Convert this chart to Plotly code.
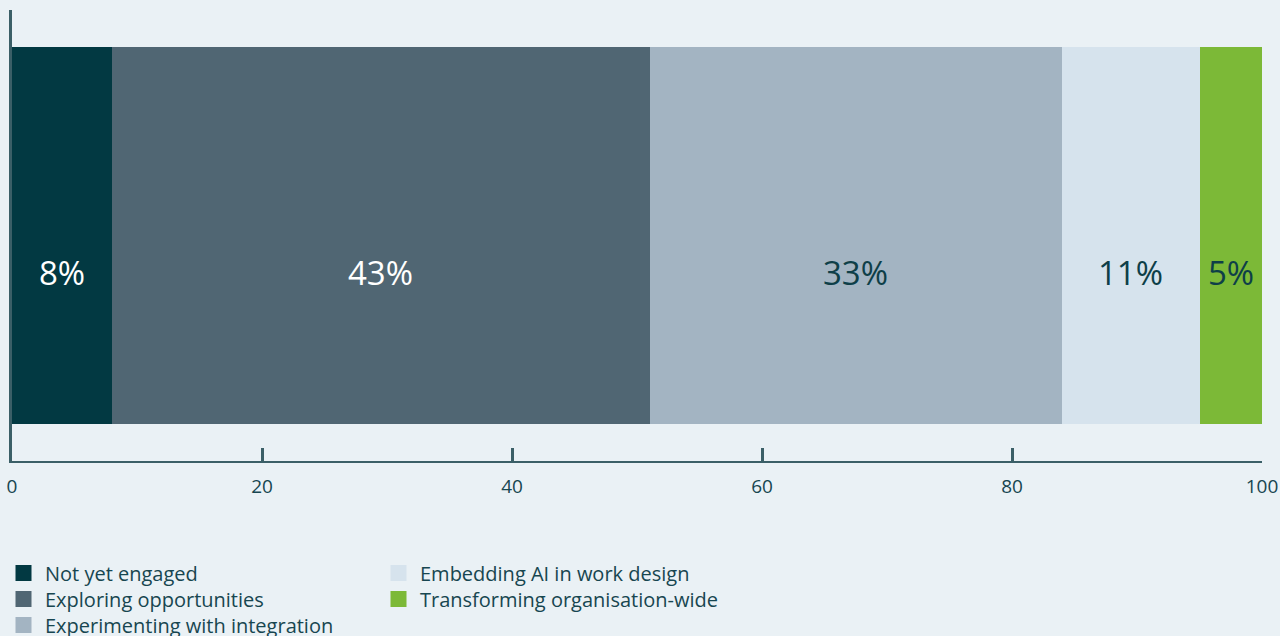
import plotly.graph_objects as go

# Share of organisations at each stage of AI adoption (%)
stages = [
    "Not yet engaged",
    "Exploring opportunities",
    "Experimenting with integration",
    "Embedding AI in work design",
    "Transforming organisation-wide",
]
shares = [8, 43, 33, 11, 5]
tick_values = [0, 20, 40, 60, 80, 100]

colors = ["#023942", "#506673", "#a3b4c2", "#d6e3ed", "#7cb937"]
label_colors = ["#ffffff", "#ffffff", "#0e3f48", "#0e3f48", "#0e3f48"]

BG = "#eaf1f5"
AXIS = "#3b5f67"
TEXT = "#174650"

# key entries: two columns, three rows then two rows (container pixels)
key_cols = [2, 2, 2, 377, 377]
key_rows = [573, 599, 625, 573, 599]

fig = go.Figure()

start = 0
for name, val, col, lc in zip(stages, shares, colors, label_colors):
    fig.add_trace(go.Bar(
        x=[val], y=[0], orientation="h", name=name,
        marker=dict(color=col, line=dict(width=0)),
        width=0.838, showlegend=False, hoverinfo="skip",
    ))
    # value label sits centred along the segment, a little below mid-height
    fig.add_annotation(
        x=start + val / 2, y=0, xref="x", yref="y",
        text=f"{val}%", showarrow=False, yshift=-37,
        font=dict(family="Open Sans", size=33, color=lc),
    )
    start += val

# Square swatches for the key, one legend box per entry
legend_layout = {}
for i, (name, col) in enumerate(zip(stages, colors)):
    key = "legend" if i == 0 else f"legend{i + 1}"
    fig.add_trace(go.Scatter(
        x=[None], y=[None], mode="markers", name=name,
        marker=dict(symbol="square", size=16, color=col, line=dict(width=0)),
        legend=key, showlegend=True,
    ))
    legend_layout[key] = dict(
        orientation="v", xref="container", yref="container",
        x=key_cols[i] / 1280, y=1 - key_rows[i] / 636,
        xanchor="left", yanchor="middle",
        font=dict(family="Open Sans", size=20, color=TEXT),
        bgcolor="rgba(0,0,0,0)", borderwidth=0, itemwidth=33,
        itemclick=False, itemdoubleclick=False,
    )

fig.update_layout(
    barmode="stack",
    width=1280, height=636,
    paper_bgcolor=BG, plot_bgcolor=BG,
    margin=dict(l=12, r=18, t=10, b=175, autoexpand=False),
    font=dict(family="Open Sans", color=TEXT),
    xaxis=dict(
        range=[0, 100], tickvals=tick_values, ticktext=[str(v) for v in tick_values],
        showgrid=False, zeroline=False,
        showline=True, linecolor=AXIS, linewidth=2,
        ticks="inside", ticklen=13, tickwidth=2.5, tickcolor=AXIS,
        tickfont=dict(family="Open Sans", size=19, color=TEXT),
        ticklabelstandoff=7,
    ),
    yaxis=dict(
        range=[-0.5, 0.5], showgrid=False, zeroline=False,
        showline=True, linecolor=AXIS, linewidth=2.5,
        showticklabels=False, ticks="",
    ),
    showlegend=True,
    **legend_layout,
)

fig.write_html("out.html")
